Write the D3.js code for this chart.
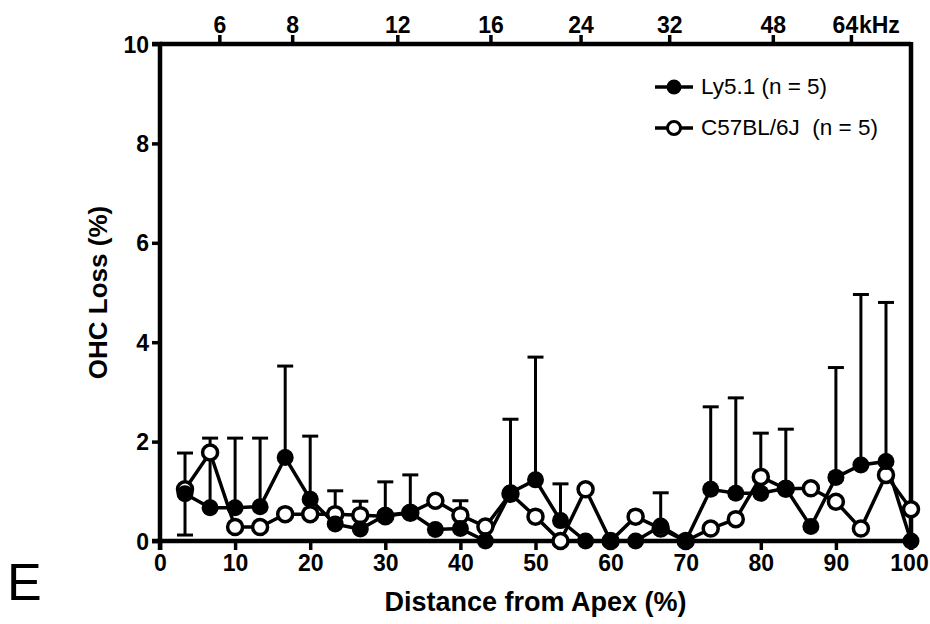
<!DOCTYPE html>
<html>
<head>
<meta charset="utf-8">
<script src="https://cdn.jsdelivr.net/npm/d3@7"></script>
<style>
  body { margin: 0; background: #fff; }
  .axis path, .axis line { stroke: #000; }
  .axis text { font-family: "Liberation Sans", Arial, sans-serif; font-weight: bold; font-size: 23px; fill: #000; }
</style>
</head>
<body>
<script>
(function() {

    // OHC loss along the cochlea, two mouse strains

    var width = 930,
        height = 624;

    var distance = [3.33, 6.67, 10, 13.33, 16.67, 20, 23.33, 26.67, 30, 33.33,
                    36.67, 40, 43.33, 46.67, 50, 53.33, 56.67, 60, 63.33, 66.67,
                    70, 73.33, 76.67, 80, 83.33, 86.67, 90, 93.33, 96.67, 100];

    var ly51 = [0.95, 0.67, 0.67, 0.69, 1.68, 0.84, 0.34, 0.24, 0.52, 0.57,
                0.23, 0.25, 0, 0.97, 1.23, 0.41, 0, 0, 0, 0.3,
                0, 1.04, 0.96, 0.96, 1.06, 0.29, 1.28, 1.53, 1.6, 0];

    // upper end of the Ly5.1 error bars
    var ly51ErrTop = [1.77, 2.07, 2.07, 2.07, 3.52, 2.11, 1.01, 0.8, 1.19, 1.33,
                      null, 0.81, null, 2.45, 3.7, 1.15, null, null, null, 0.97,
                      null, 2.7, 2.88, 2.17, 2.25, null, 3.49, 4.96, 4.8, null];
    // lower end, only visible on the first point
    var ly51ErrBottom = [0.12, null, null, null, null, null, null, null, null, null,
                         null, null, null, null, null, null, null, null, null, null,
                         null, null, null, null, null, null, null, null, null, null];

    var c57 = [1.04, 1.78, 0.28, 0.28, 0.54, 0.54, 0.54, 0.52, 0.5, 0.57,
               0.81, 0.52, 0.29, 0.95, 0.49, 0, 1.04, 0, 0.49, 0.25,
               0, 0.25, 0.44, 1.29, 1.05, 1.06, 0.79, 0.25, 1.33, 0.64];

    var yTicks = [0, 2, 4, 6, 8, 10];
    var xTicks = [0, 10, 20, 30, 40, 50, 60, 70, 80, 90, 100];
    var freqLabels = ["6", "8", "12", "16", "24", "32", "48", "64"];
    var freqPositions = [7.9, 17.6, 31.6, 44.0, 56.0, 67.8, 81.6, 92.0];

    var legendNames = ["Ly5.1 (n = 5)", "C57BL/6J  (n = 5)"];

    var margin = {left: 160, right: 19, top: 44, bottom: 83};
    var font = "Liberation Sans, Arial, sans-serif";

    var svg = d3.select("body")
                .append("svg")
                .attr("width", width)
                .attr("height", height);

    var x = d3.scaleLinear().domain([0, 100]).range([margin.left, width - margin.right]);
    var y = d3.scaleLinear().domain([0, 10]).range([height - margin.bottom, margin.top]);

    // error bars first so markers sit on top
    var capW = 8;
    var bars = svg.append("g").attr("stroke", "#000").attr("stroke-width", 3);
    distance.forEach(function(d, i) {
        if (ly51ErrTop[i] != null) {
            bars.append("line")
                .attr("x1", x(d)).attr("x2", x(d))
                .attr("y1", y(ly51[i])).attr("y2", y(ly51ErrTop[i]));
            bars.append("line")
                .attr("x1", x(d) - capW).attr("x2", x(d) + capW)
                .attr("y1", y(ly51ErrTop[i])).attr("y2", y(ly51ErrTop[i]));
        }
        if (ly51ErrBottom[i] != null) {
            bars.append("line")
                .attr("x1", x(d)).attr("x2", x(d))
                .attr("y1", y(ly51[i])).attr("y2", y(ly51ErrBottom[i]));
            bars.append("line")
                .attr("x1", x(d) - capW).attr("x2", x(d) + capW)
                .attr("y1", y(ly51ErrBottom[i])).attr("y2", y(ly51ErrBottom[i]));
        }
    });

    var line = d3.line()
        .x(function(d) { return x(d[0]); })
        .y(function(d) { return y(d[1]); });

    var lyData = d3.zip(distance, ly51);
    var c57Data = d3.zip(distance, c57);

    svg.append("path").datum(c57Data)
        .attr("d", line).attr("fill", "none")
        .attr("stroke", "#000").attr("stroke-width", 3.5);
    svg.append("path").datum(lyData)
        .attr("d", line).attr("fill", "none")
        .attr("stroke", "#000").attr("stroke-width", 3.5);

    // axes
    var axisBottom = svg.append("g")
        .attr("class", "axis")
        .attr("transform", "translate(0," + y(0) + ")")
        .call(d3.axisBottom(x).tickValues(xTicks).tickSize(9).tickPadding(3).tickFormat(d3.format("d")));

    var axisLeft = svg.append("g")
        .attr("class", "axis")
        .attr("transform", "translate(" + x(0) + ",0)")
        .call(d3.axisLeft(y).tickValues(yTicks).tickSize(8).tickPadding(3).tickFormat(d3.format("d")));

    var axisTop = svg.append("g")
        .attr("class", "axis")
        .attr("transform", "translate(0," + y(10) + ")")
        .call(d3.axisTop(x).tickValues(freqPositions).tickSize(9).tickPadding(2)
              .tickFormat(function(d, i) { return freqLabels[i]; }));

    [axisBottom, axisLeft, axisTop].forEach(function(g) {
        g.select(".domain").attr("stroke-width", 4.5);
        g.selectAll(".tick line").attr("stroke-width", 3.5);
    });
    axisBottom.selectAll("text").attr("dy", "0.8em");
    axisBottom.selectAll("text").filter(function(d) { return d === 100; }).attr("dx", -2);
    axisLeft.selectAll("text").attr("dy", "0.35em");
    axisTop.selectAll("text").filter(function(d, i) { return i === freqLabels.length - 1; }).attr("dx", -6);
    axisLeft.select(".domain").attr("d", "M-8," + y(10) + "H0V" + y(0) + "H-8");
    axisBottom.select(".domain").attr("d", "M" + x(0) + ",9V0H" + x(100) + "V9");
    axisTop.select(".domain").attr("d", "M" + x(0) + ",0H" + x(100));

    svg.append("text")
        .attr("x", x(freqPositions[7]) + 8)
        .attr("y", y(10) - 11)
        .attr("font-family", font)
        .attr("font-weight", "bold")
        .attr("font-size", 23)
        .text("kHz");

    // right frame
    svg.append("line")
        .attr("x1", x(100)).attr("x2", x(100))
        .attr("y1", y(10) - 2).attr("y2", y(0))
        .attr("stroke", "#000").attr("stroke-width", 4.5);

    // markers
    svg.append("g").selectAll("circle").data(c57Data).enter()
        .append("circle")
        .attr("cx", function(d) { return x(d[0]); })
        .attr("cy", function(d) { return y(d[1]); })
        .attr("r", 7.5)
        .attr("fill", "#fff")
        .attr("stroke", "#000")
        .attr("stroke-width", 3.5);
    svg.append("g").selectAll("circle").data(lyData).enter()
        .append("circle")
        .attr("cx", function(d) { return x(d[0]); })
        .attr("cy", function(d) { return y(d[1]); })
        .attr("r", 8.5)
        .attr("fill", "#000");

    // legend
    var legend = svg.append("g").attr("transform", "translate(655,87)");
    legendNames.forEach(function(name, i) {
        var row = legend.append("g").attr("transform", "translate(0," + (i * 41) + ")");
        row.append("line").attr("x1", 0).attr("x2", 38).attr("y1", 0).attr("y2", 0)
            .attr("stroke", "#000").attr("stroke-width", 3.5);
        row.append("circle").attr("cx", 19).attr("cy", 0).attr("r", i === 0 ? 7.5 : 6.5)
            .attr("fill", i === 0 ? "#000" : "#fff")
            .attr("stroke", "#000").attr("stroke-width", i === 0 ? 0 : 3);
        row.append("text").attr("x", 46).attr("y", 7)
            .attr("font-family", font)
            .attr("font-size", 22.5)
            .style("white-space", "pre")
            .text(name);
    });

    // axis titles
    svg.append("text")
        .attr("transform", "translate(107," + y(5) + ") rotate(-90)")
        .attr("text-anchor", "middle")
        .attr("font-family", font)
        .attr("font-weight", "bold")
        .attr("font-size", 26)
        .text("OHC Loss (%)");

    svg.append("text")
        .attr("x", x(50))
        .attr("y", 611)
        .attr("text-anchor", "middle")
        .attr("font-family", font)
        .attr("font-weight", "bold")
        .attr("font-size", 27)
        .text("Distance from Apex (%)");

    svg.append("text")
        .attr("x", 7)
        .attr("y", 600)
        .attr("font-family", font)
        .attr("font-size", 52)
        .text("E");

})();
</script>
</body>
</html>
